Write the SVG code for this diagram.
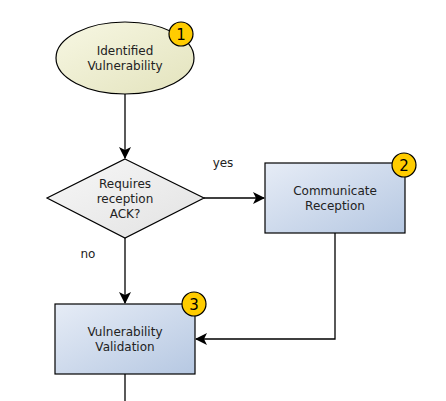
<svg xmlns="http://www.w3.org/2000/svg" width="446" height="401" viewBox="0 0 446 401">
<style>
text{font-family:"DejaVu Sans","Noto Sans",sans-serif;font-size:12px;fill:#222;text-anchor:middle}
.badge circle{fill:#ffcc00;stroke:#000;stroke-width:1.2}
.badge text{font-size:15px;fill:#000}
.node{stroke:#000;stroke-width:1.2}
.conn{fill:none;stroke:#000;stroke-width:1.3}
</style>
<defs>
<linearGradient id="gEll" x1="0" y1="0" x2="1" y2="1"><stop offset="0" stop-color="#f7f7e3"/><stop offset="1" stop-color="#e3e3bd"/></linearGradient>
<linearGradient id="gBox" x1="0" y1="0" x2="1" y2="1"><stop offset="0" stop-color="#e6ecf6"/><stop offset="1" stop-color="#b6c8e2"/></linearGradient>
<linearGradient id="gDia" x1="0" y1="0" x2="1" y2="1"><stop offset="0" stop-color="#f7f7f7"/><stop offset="1" stop-color="#e2e2e2"/></linearGradient>
<marker id="arr" viewBox="0 0 12 12" refX="11" refY="6" markerWidth="12" markerHeight="12" markerUnits="userSpaceOnUse" orient="auto">
<path d="M0,0 L12,6 L0,12 L3,6 Z" fill="#000"/>
</marker>
</defs>
<g id="connectors">
<path class="conn" d="M125,94 V158" marker-end="url(#arr)"/>
<path class="conn" d="M204,198 H264" marker-end="url(#arr)"/>
<path class="conn" d="M125,238 V303" marker-end="url(#arr)"/>
<path class="conn" d="M335,233 V339 H196" marker-end="url(#arr)"/>
<path class="conn" d="M125,374 V401"/>
<text x="223" y="167">yes</text>
<text x="88" y="258">no</text>
</g>
<g id="n1">
<ellipse class="node" cx="125" cy="58" rx="69" ry="36" fill="url(#gEll)"/>
<text x="125" y="55">Identified</text>
<text x="125" y="70">Vulnerability</text>
<g class="badge"><circle cx="181" cy="34" r="12"/><text x="181" y="39.5">1</text></g>
</g>
<g id="n_decision">
<polygon class="node" points="125,159 204,198 125,238 47,198" fill="url(#gDia)"/>
<text x="125" y="188">Requires</text>
<text x="125" y="203">reception</text>
<text x="125" y="218">ACK?</text>
</g>
<g id="n2">
<rect class="node" x="265" y="163" width="140" height="70" fill="url(#gBox)"/>
<text x="335" y="195">Communicate</text>
<text x="335" y="210">Reception</text>
<g class="badge"><circle cx="404" cy="165" r="12"/><text x="404" y="170.5">2</text></g>
</g>
<g id="n3">
<rect class="node" x="55" y="304" width="140" height="70" fill="url(#gBox)"/>
<text x="125" y="336">Vulnerability</text>
<text x="125" y="351">Validation</text>
<g class="badge"><circle cx="194" cy="304" r="12"/><text x="194" y="309.5">3</text></g>
</g>
</svg>
